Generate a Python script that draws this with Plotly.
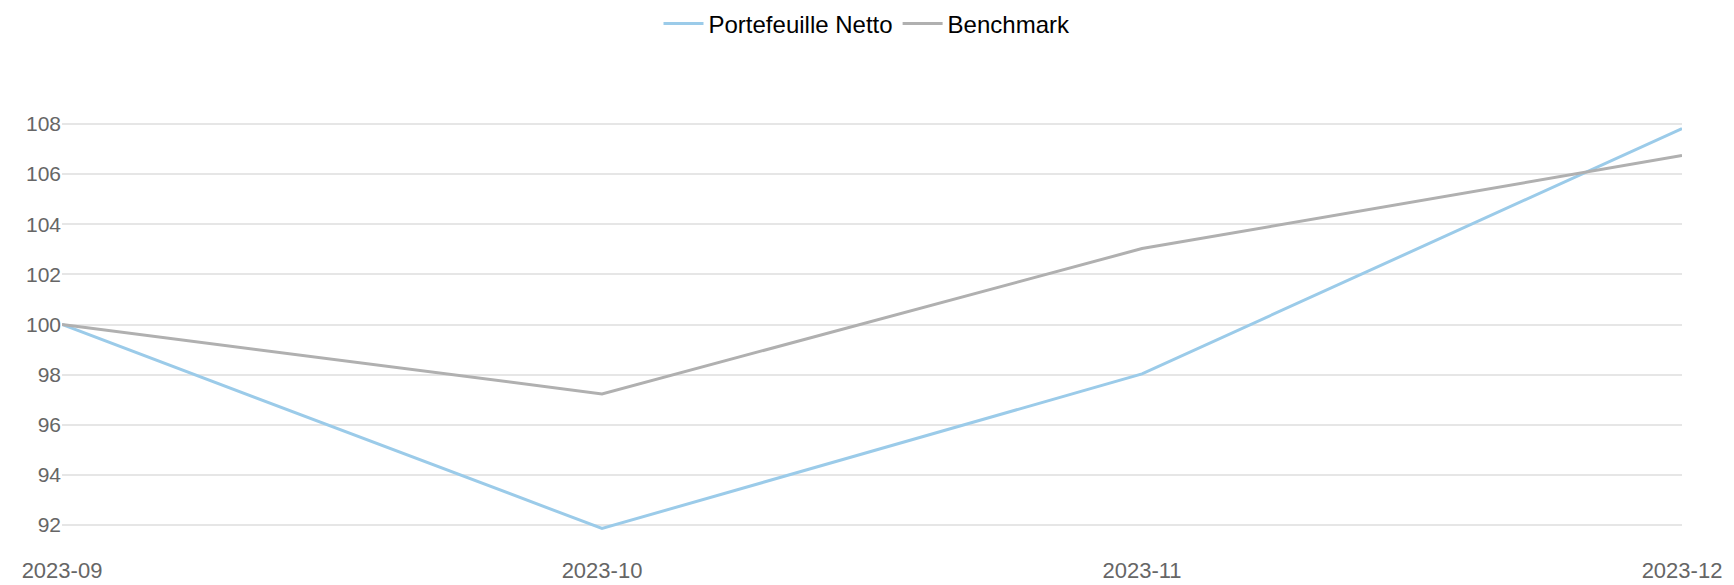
import plotly.graph_objects as go

categories = ["2023-09", "2023-10", "2023-11", "2023-12"]
portefeuille = [100.0, 91.86, 98.03, 107.82]
benchmark = [100.0, 97.23, 103.03, 106.74]
y_ticks = [92, 94, 96, 98, 100, 102, 104, 106, 108]

fig = go.Figure()
fig.add_trace(go.Scatter(x=categories, y=portefeuille, mode="lines", name="Portefeuille Netto",
                         line=dict(color="#9BCBE9", width=3)))
fig.add_trace(go.Scatter(x=categories, y=benchmark, mode="lines", name="Benchmark",
                         line=dict(color="#B0B0B0", width=3)))

fig.update_layout(
    width=1734, height=585,
    paper_bgcolor="white", plot_bgcolor="white",
    margin=dict(l=62, r=52, t=114, b=50, autoexpand=False),
    font=dict(family="Liberation Sans, Arial, sans-serif", size=21, color="#666666"),
    legend=dict(orientation="h", x=0.5, xanchor="center", xref="container",
                y=1 - 24 / 585, yanchor="middle", yref="container",
                font=dict(size=24, color="#000000"), itemwidth=40),
    xaxis=dict(type="category", range=[0, 3], showgrid=False, showline=False, zeroline=False,
               ticks="", ticklabelstandoff=20, tickfont=dict(size=22, color="#666666")),
    yaxis=dict(range=[91.6, 108.4], tickvals=y_ticks, showgrid=True, gridcolor="#E6E6E6",
               gridwidth=1.5, zeroline=False, showline=False, ticks="",
               tickfont=dict(size=21, color="#666666")),
)

fig.write_html("out.html", config={"displayModeBar": False},
               post_script="document.body.style.margin='0';")
